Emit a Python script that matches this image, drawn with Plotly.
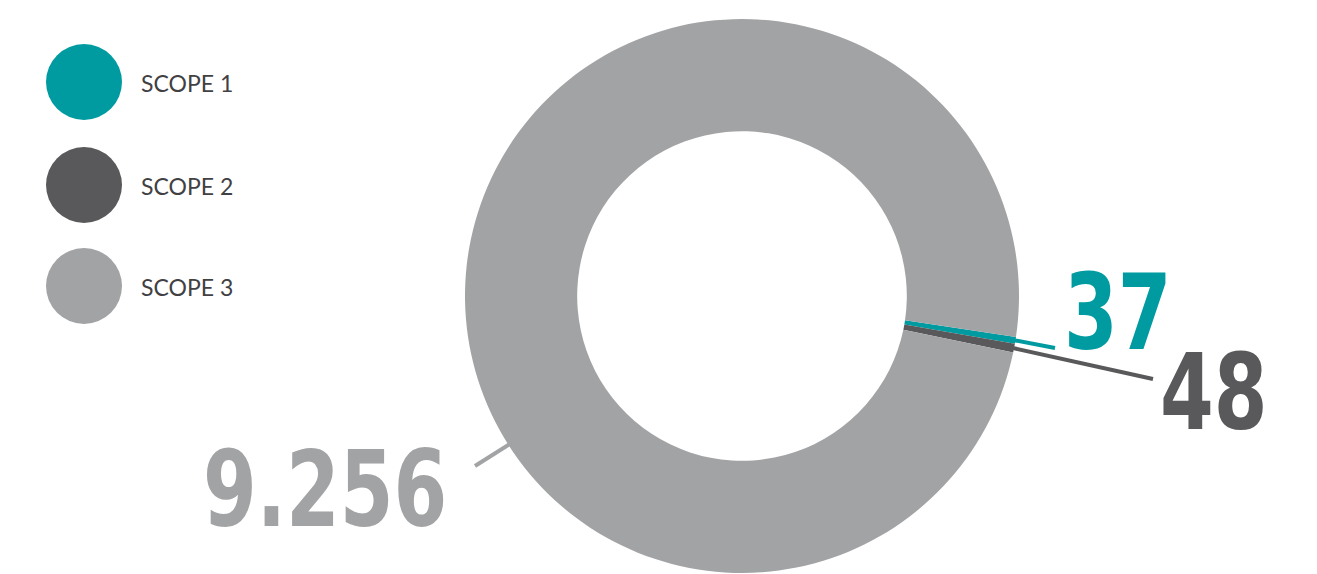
import math
import plotly.graph_objects as go

# ---- data ----
categories = ["SCOPE 1", "SCOPE 2", "SCOPE 3"]
values = [37, 48, 9256]
value_labels = ["37", "48", "9.256"]
colors = ["#009BA1", "#59595B", "#A2A3A5"]

W, H = 1317, 574
OFF = 8  # page body margin
# pie geometry (pixels in screenshot)
CX, CY, R = 742, 296, 277
HOLE = 0.595
ROT = 98.5  # degrees clockwise from 12 o'clock where first slice starts
SQUEEZE = 0.81  # horizontal condensing of big value labels


def px(x):
    return (x - OFF) / W


def py(y):
    return 1 - (y - OFF) / H


fig = go.Figure()
fig.add_trace(go.Pie(
    labels=categories, values=values, marker=dict(colors=colors, line=dict(width=0)),
    hole=HOLE, sort=False, direction="clockwise", rotation=ROT,
    textinfo="none", hoverinfo="label+value", showlegend=False,
    domain=dict(x=[px(CX - R), px(CX + R)], y=[py(CY + R), py(CY - R)]),
))

# label placement (pixels): left edge x, text vertical centre y, leader-line end
label_pos = [(1062, 312), (1158, 392), (201, 489)]
line_end = [(1055, 348), (1153, 379), (475, 466)]
scope3_angle = 147.5  # screen angle (deg, y down) where scope-3 leader meets ring

total = sum(values)
cum = 0
for i, v in enumerate(values):
    mid_frac = (cum + v / 2) / total
    cum += v
    if i < 2:
        a = math.radians(ROT + mid_frac * 360 - 90)
        r0 = R * 0.985
    else:
        a = math.radians(scope3_angle)
        r0 = R * 0.99
    sx, sy = CX + r0 * math.cos(a), CY + r0 * math.sin(a)
    ex, ey = line_end[i]
    fig.add_shape(type="line", xref="paper", yref="paper",
                  x0=px(sx), y0=py(sy), x1=px(ex), y1=py(ey),
                  line=dict(color=colors[i], width=4))
    lx, ly = label_pos[i]
    fig.add_annotation(xref="paper", yref="paper", x=px(lx), y=py(ly),
                       xanchor="left", yanchor="middle", showarrow=False,
                       text="<b>%s</b>" % value_labels[i],
                       font=dict(family="DejaVu Sans Condensed, sans-serif",
                                 size=106, color=colors[i]))

# legend: big circles + text
leg_y = [82, 185, 286]
for i, c in enumerate(categories):
    fig.add_shape(type="circle", xref="paper", yref="paper",
                  x0=px(46), x1=px(122), y0=py(leg_y[i] + 38), y1=py(leg_y[i] - 38),
                  fillcolor=colors[i], line=dict(width=0))
    fig.add_annotation(xref="paper", yref="paper", x=px(139), y=py(leg_y[i] + 1),
                       xanchor="left", yanchor="middle", showarrow=False,
                       text=c, font=dict(family="Lato, sans-serif", size=23, color="#414042"))

fig.update_layout(width=W, height=H, margin=dict(l=0, r=0, t=0, b=0),
                  paper_bgcolor="white", plot_bgcolor="white")

post = """
(function(){
  var gd = document.getElementById('{plot_id}');
  function squeeze(){
    var ts = gd.querySelectorAll('text.annotation-text');
    ts.forEach(function(t){
      var fs = parseFloat(t.style.fontSize || t.getAttribute('font-size') || 0);
      if (fs > 50) {
        t.removeAttribute('transform');
        var b = t.getBBox();
        t.setAttribute('transform', 'translate(' + b.x + ',0) scale(%s,1) translate(' + (-b.x) + ',0)');
      }
    });
  }
  squeeze();
  setTimeout(squeeze, 0);
  setTimeout(squeeze, 300);
  if (gd.on) gd.on('plotly_afterplot', squeeze);
})();
""" % SQUEEZE

fig.write_html("out.html", post_script=post)
